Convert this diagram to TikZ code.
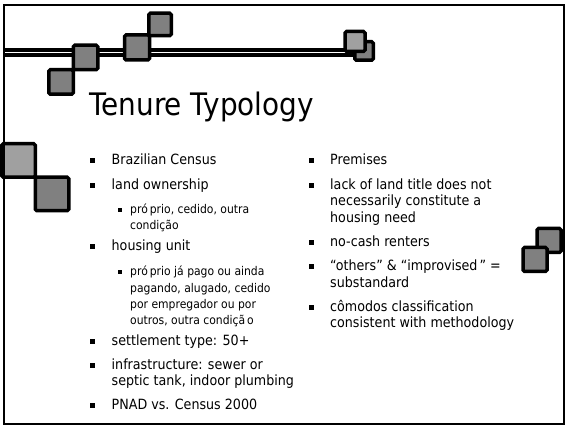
\documentclass[tikz,border=0pt]{standalone}
\usepackage{fontspec}
\setmainfont{DejaVu Sans}[FakeStretch=0.9]
\definecolor{sqdark}{HTML}{808080}
\definecolor{sqlight}{HTML}{A0A0A0}
\begin{document}
\begin{tikzpicture}[x=1pt,y=-1pt,
  sqd/.style={draw=black,line width=3.5pt,rounded corners=1.5pt,fill=sqdark,inner sep=0pt,outer sep=0pt},
  sql/.style={sqd,fill=sqlight},
  bul/.style={fill=black,minimum size=5pt,inner sep=0pt,outer sep=0pt},
  subbul/.style={fill=black,minimum size=4pt,inner sep=0pt,outer sep=0pt},
  txt/.style={anchor=base west,inner sep=0pt,font=\fontsize{14.1}{16}\selectfont},
  subtxt/.style={anchor=base west,inner sep=0pt,font=\fontsize{12}{14}\selectfont},
  ttl/.style={anchor=base west,inner sep=0pt,font=\fontsize{31}{34}\selectfont},
]
\useasboundingbox (0,0) rectangle (566,427);
% double rule
\coordinate (dl) at (4,52.75);
\coordinate (dr) at (355,52.75);
\coordinate (wl) at (5,52.5);
\coordinate (wr) at (353,52.5);
\draw[line width=8.5pt] (dl) -- (dr);
\draw[white,line width=1.6pt] (wl) -- (wr);
% squares
\node[sqd,minimum size=24.5pt] (s1) at (61,82) {};
\node[sqd,minimum size=24.5pt] (s2) at (85.5,57.5) {};
\node[sqd,minimum size=25pt] (s3) at (137,47.5) {};
\node[sqd,minimum size=22.5pt] (s4) at (160,24.5) {};
\node[sqd,minimum size=18.5pt] (s6) at (364,51) {};
\node[sql,minimum size=20pt] (s5) at (355,41.5) {};
\node[sql,minimum size=33.5pt] (s7) at (18.5,160.5) {};
\node[sqd,minimum size=33.5pt] (s8) at (52,194) {};
\node[sqd,minimum size=24pt] (s9) at (549,240.5) {};
\node[sqd,minimum size=24pt] (s10) at (535,259.5) {};
% frame
\draw[line width=2pt] (4,5) rectangle (564,424);
% title
\node[ttl] (title) at (89,116) {Tenure Typology};
% left column
\node[bul] (lb1) at (92.5,161) {};
\node[txt] (l1) at (111.5,165) {Brazilian Census};
\node[bul] (lb2) at (92.5,186) {};
\node[txt] (l2) at (111.5,190) {land ownership};
\node[subbul] (lsb1) at (119.5,210.5) {};
\node[subtxt] (l3) at (130,214) {pró\kern2ptprio, cedido, outra};
\node[subtxt] (l4) at (130,230) {condição};
\node[bul] (lb3) at (92.5,247) {};
\node[txt] (l5) at (111.5,251) {housing unit};
\node[subbul] (lsb2) at (119.5,272.5) {};
\node[subtxt] (l6) at (130,276) {pró\kern2ptprio já pago ou ainda};
\node[subtxt] (l7) at (130,292.5) {pagando, alugado, cedido};
\node[subtxt] (l8) at (130,309) {por empregador ou por};
\node[subtxt] (l9) at (130,325) {outros, outra condiçã\kern2pto};
\node[bul] (lb4) at (92.5,342) {};
\node[txt] (l10) at (111.5,346) {settlement type: 50+};
\node[bul] (lb5) at (92.5,366) {};
\node[txt] (l11) at (111.5,370) {infrastructure: sewer or};
\node[txt] (l12) at (111.5,386) {septic tank, indoor plumbing};
\node[bul] (lb6) at (92.5,406) {};
\node[txt] (l13) at (111.5,410) {PNAD vs. Census 2000};
% right column
\node[bul] (rb1) at (311.5,161) {};
\node[txt] (r1) at (330,165) {Premises};
\node[bul] (rb2) at (311.5,186) {};
\node[txt] (r2) at (330,190) {lack of land title does not};
\node[txt] (r3) at (330,206) {necessarily constitute a};
\node[txt] (r4) at (330,223) {housing need};
\node[bul] (rb3) at (311.5,243) {};
\node[txt] (r5) at (330,247) {no-cash renters};
\node[bul] (rb4) at (311.5,267) {};
\node[txt] (r6) at (330,271) {“others” \& “improvised\kern2pt” =};
\node[txt] (r7) at (330,288) {substandard};
\node[bul] (rb5) at (311.5,308) {};
\node[txt] (r8) at (330,312) {cômodos classification};
\node[txt] (r9) at (330,328) {consistent with methodology};
\end{tikzpicture}
\end{document}
